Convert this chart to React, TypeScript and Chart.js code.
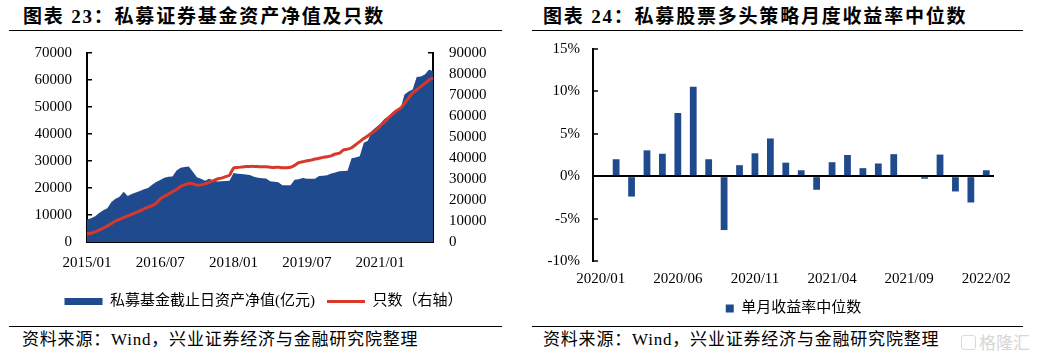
import React, { useEffect, useRef } from 'react';
import { Chart, registerables } from 'chart.js';

Chart.register(...registerables);

const FONT = "'Liberation Serif', 'Noto Sans CJK SC', serif";
const BLUE = '#1F4B8E';
const RED = '#D8382B';

Chart.defaults.font.family = FONT;
Chart.defaults.color = '#000';

function buildMonths(year: number, month: number, count: number): string[] {
  const out: string[] = [];
  let y = year;
  let m = month;
  for (let i = 0; i < count; i++) {
    out.push(`${y}/${m < 10 ? '0' + m : m}`);
    m++;
    if (m > 12) { m = 1; y++; }
  }
  return out;
}

// ---- Chart 23: private fund NAV (left axis, 亿元) and fund count (right axis)
const navCategories = buildMonths(2015, 1, 86); // 2015/01 .. 2022/02
const navTickLabels = ['2015/01', '2016/07', '2018/01', '2019/07', '2021/01'];
const navAssets = [
  8300, 8800, 9500, 10700, 11800, 12500, 14800, 16000, 16800, 18600, 17000, 17800,
  18300, 18900, 19500, 20000, 21200, 22200, 23000, 23800, 24200, 24300, 26500, 27500,
  27800, 28000, 26000, 24000, 23400, 22700, 23400, 22800, 22400, 22500, 22600, 22700,
  25600, 25300, 25200, 25000, 24800, 24200, 23800, 23600, 23500, 22500, 22300, 22100,
  21000, 21000, 21000, 23100, 23200, 23700, 23400, 23400, 23400, 24400, 24500, 24700,
  25400, 25700, 26200, 26300, 26400, 31000, 31300, 31800, 36800, 37500, 41200, 42500,
  43700, 45500, 46500, 48000, 49000, 49300, 54600, 55700, 56500, 61100, 61300, 62000,
  63800, 63300,
];
const fundCount = [
  3800, 4200, 4800, 5700, 6600, 7600, 8800, 10000, 10800, 11600, 12400, 13200,
  14000, 14800, 15800, 16600, 17300, 18500, 20500, 21800, 22800, 24000, 25000, 26500,
  27300, 27900, 27700, 27100, 27200, 27700, 28400, 29200, 30000, 30400, 31100, 31800,
  35200, 35500, 35700, 35900, 36000, 36000, 35900, 35800, 35800, 35600, 35500, 35600,
  35400, 35400, 35600, 36500, 37800, 38200, 38700, 39000, 39500, 39900, 40300, 40600,
  41000, 41900, 42300, 43800, 44200, 44900, 46300, 47800, 49300, 50600, 52000, 53300,
  55200, 57000, 59000, 60800, 62500, 63700, 66000, 68600, 71000, 72500, 74000, 75500,
  77100, 78200,
];
const navLegend = ['私募基金截止日资产净值(亿元)', '只数（右轴）'];

// ---- Chart 24: monthly median return of private long-only equity strategies (%)
const retCategories = buildMonths(2020, 1, 26); // 2020/01 .. 2022/02
const retTickLabels = ['2020/01', '2020/06', '2020/11', '2021/04', '2021/09', '2022/02'];
const retMedian = [
  0, 2.0, -2.4, 3.05, 2.65, 7.45, 10.55, 2.0, -6.35, 1.3, 2.7, 4.45,
  1.6, 0.7, -1.6, 1.65, 2.5, 0.95, 1.5, 2.6, 0, -0.3, 2.55, -1.8,
  -3.1, 0.7,
];
const retLegend = '单月收益率中位数';

const tickFont = { size: 15, family: FONT };

const fixVertical = (width: number) => (s: any) => {
  s.width = width;
  s.paddingTop = 0;
  s.paddingBottom = 0;
};

export default function App() {
  const leftRef = useRef<HTMLCanvasElement | null>(null);
  const rightRef = useRef<HTMLCanvasElement | null>(null);

  useEffect(() => {
    const left = new Chart(leftRef.current as HTMLCanvasElement, {
      type: 'line',
      data: {
        labels: navCategories,
        datasets: [
          {
            label: navLegend[0],
            data: navAssets,
            yAxisID: 'y',
            fill: 'origin',
            backgroundColor: BLUE,
            borderColor: BLUE,
            borderWidth: 0,
            pointRadius: 0,
            tension: 0,
            order: 2,
          },
          {
            label: navLegend[1],
            data: fundCount,
            yAxisID: 'y1',
            fill: false,
            backgroundColor: RED,
            borderColor: RED,
            borderWidth: 3,
            pointRadius: 0,
            tension: 0.2,
            order: 1,
          },
        ],
      },
      options: {
        animation: false,
        responsive: false,
        events: [],
        layout: { padding: { left: 12, right: 0, top: 15, bottom: 0 } },
        plugins: {
          tooltip: { enabled: false },
          legend: {
            position: 'bottom',
            align: 'center',
            labels: {
              usePointStyle: true,
              pointStyleWidth: 38,
              boxHeight: 7,
              padding: 12,
              color: '#000',
              font: { size: 15, family: FONT },
              generateLabels: () => [
                { text: navLegend[0], fillStyle: BLUE, strokeStyle: BLUE, lineWidth: 0, pointStyle: 'rect', datasetIndex: 0, hidden: false, fontColor: '#000' },
                { text: navLegend[1], fillStyle: RED, strokeStyle: RED, lineWidth: 3, pointStyle: 'line', datasetIndex: 1, hidden: false, fontColor: '#000' },
              ],
            },
          },
        },
        scales: {
          x: {
            grid: { display: false, drawTicks: false },
            border: { display: true, color: '#000', width: 2 },
            ticks: {
              autoSkip: false,
              maxRotation: 0,
              minRotation: 0,
              padding: 12,
              color: '#000',
              font: tickFont,
              callback: (_v: any, i: number) => (navTickLabels.includes(navCategories[i]) ? navCategories[i] : ''),
            },
            afterFit: (s: any) => { s.height = 40; },
          },
          y: {
            position: 'left',
            min: 0,
            max: 70000,
            ticks: { stepSize: 10000, autoSkip: false, padding: 20, color: '#000', font: tickFont, callback: (v: any) => String(v) },
            grid: { drawOnChartArea: false, drawTicks: true, tickLength: -5, color: '#000', lineWidth: 1.5 },
            border: { display: true, color: '#000', width: 2 },
            afterFit: fixVertical(75),
          },
          y1: {
            position: 'right',
            min: 0,
            max: 90000,
            ticks: { stepSize: 10000, autoSkip: false, padding: 21, color: '#000', font: tickFont, callback: (v: any) => String(v) },
            grid: { drawOnChartArea: false, drawTicks: true, tickLength: -5, color: '#000', lineWidth: 1.5 },
            border: { display: true, color: '#000', width: 2 },
            afterFit: fixVertical(82),
          },
        },
      } as any,
    });

    const right = new Chart(rightRef.current as HTMLCanvasElement, {
      type: 'bar',
      data: {
        labels: retCategories,
        datasets: [
          {
            label: retLegend,
            data: retMedian,
            backgroundColor: BLUE,
            borderWidth: 0,
            barPercentage: 0.44,
            categoryPercentage: 1,
          },
        ],
      },
      options: {
        animation: false,
        responsive: false,
        events: [],
        layout: { padding: { left: 0, right: 44, top: 11, bottom: 0 } },
        plugins: {
          tooltip: { enabled: false },
          legend: {
            position: 'bottom',
            fullSize: false,
            labels: {
              boxWidth: 8,
              boxHeight: 8,
              padding: 10,
              color: '#000',
              font: { size: 15, family: FONT },
            },
          },
        },
        scales: {
          x: {
            grid: { display: false, drawTicks: false },
            border: { display: false },
            ticks: {
              autoSkip: false,
              maxRotation: 0,
              minRotation: 0,
              padding: 9,
              color: '#000',
              font: tickFont,
              callback: (_v: any, i: number) => (retTickLabels.includes(retCategories[i]) ? retCategories[i] : ''),
            },
            afterFit: (s: any) => { s.height = 30; },
          },
          y: {
            min: -10,
            max: 15,
            ticks: { stepSize: 5, autoSkip: false, padding: 18, color: '#000', font: tickFont, callback: (v: any) => `${v}%` },
            grid: {
              drawOnChartArea: true,
              drawTicks: true,
              tickLength: -5,
              color: (ctx: any) => (ctx.tick && ctx.tick.value === 0 ? '#000' : 'rgba(0,0,0,0)'),
              lineWidth: 2,
              tickColor: '#000',
              tickWidth: 1.5,
            },
            border: { display: true, color: '#000', width: 2 },
            afterFit: fixVertical(73),
          },
        },
      } as any,
    });

    return () => {
      left.destroy();
      right.destroy();
    };
  }, []);

  const titleStyle: React.CSSProperties = {
    position: 'absolute',
    top: 5,
    fontSize: 19,
    fontWeight: 700,
    letterSpacing: 1.8,
    lineHeight: '24px',
    whiteSpace: 'nowrap',
    color: '#000',
    fontFamily: FONT,
  };
  const sourceStyle: React.CSSProperties = {
    position: 'absolute',
    top: 329,
    fontSize: 17,
    letterSpacing: 0.8,
    lineHeight: '22px',
    whiteSpace: 'nowrap',
    color: '#000',
    fontFamily: FONT,
  };
  const rule = (left: number, top: number, width: number): React.CSSProperties => ({
    position: 'absolute',
    left,
    top,
    width,
    height: 0,
    borderTop: '1px solid #000',
  });

  return (
    <div style={{ position: 'absolute', left: 0, top: 0, width: 1038, height: 359, background: '#fff', overflow: 'hidden' }}>
      <div style={{ ...titleStyle, left: 23 }}>图表 23：私募证券基金资产净值及只数</div>
      <div style={rule(9, 30, 493)} />
      <div style={{ position: 'absolute', left: 0, top: 38, width: 515, height: 281 }}>
        <canvas ref={leftRef} width={515} height={281} style={{ width: 515, height: 281, display: 'block' }} />
      </div>
      <div style={rule(9, 326, 493)} />
      <div style={{ ...sourceStyle, left: 22 }}>资料来源：Wind，兴业证券经济与金融研究院整理</div>

      <div style={{ ...titleStyle, left: 543 }}>图表 24：私募股票多头策略月度收益率中位数</div>
      <div style={rule(532, 30, 491)} />
      <div style={{ position: 'absolute', left: 520, top: 38, width: 518, height: 288 }}>
        <canvas ref={rightRef} width={518} height={288} style={{ width: 518, height: 288, display: 'block' }} />
      </div>
      <div style={rule(532, 326, 491)} />
      <div style={{ ...sourceStyle, left: 543 }}>资料来源：Wind，兴业证券经济与金融研究院整理</div>
      <div style={{ position: 'absolute', left: 961, top: 335, width: 13, height: 13, border: '1.5px solid #dadada', borderRadius: 3 }} />
      <div style={{ position: 'absolute', left: 979, top: 331, fontSize: 17, color: '#d6d6d6', fontFamily: "'Noto Sans CJK SC', sans-serif", whiteSpace: 'nowrap', lineHeight: '22px' }}>格隆汇</div>
    </div>
  );
}
